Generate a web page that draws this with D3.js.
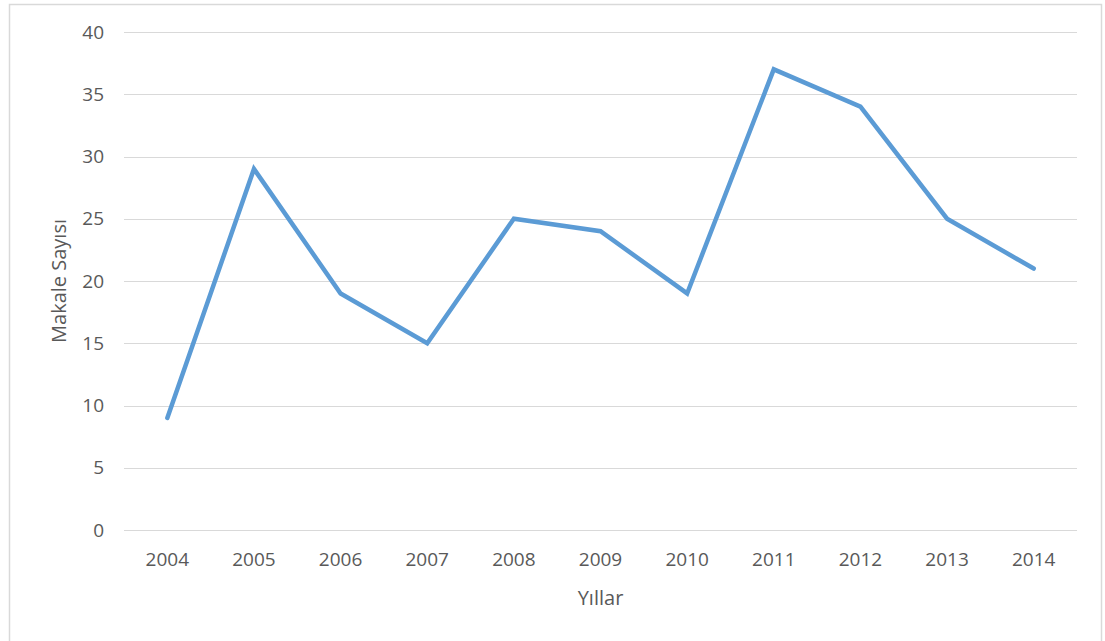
<!DOCTYPE html>
<html><head><meta charset="utf-8">
<script src="https://cdn.jsdelivr.net/npm/d3@7"></script>
<style>body{margin:0;background:#fff}svg{display:block}</style>
</head><body>
<svg id="c" width="1105" height="641"></svg>
<script>
const years = ["2004","2005","2006","2007","2008","2009","2010","2011","2012","2013","2014"];
const counts = [9, 29, 19, 15, 25, 24, 19, 37, 34, 25, 21];
const yTicks = [0, 5, 10, 15, 20, 25, 30, 35, 40];

const svg = d3.select("#c");
const font = "'Open Sans', 'Noto Sans', sans-serif";
const textColor = "#595959";

// frame
svg.append("rect").attr("x", 9.5).attr("y", 4.5).attr("width", 1092).attr("height", 660)
  .attr("fill", "#fff").attr("stroke", "#d9d9d9").attr("stroke-width", 1.5);

const m = {left: 124, right: 1077, top: 32, bottom: 530};
const x = d3.scaleBand().domain(years).range([m.left, m.right]);
const y = d3.scaleLinear().domain([0, 40]).range([m.bottom, m.top]);

// gridlines
svg.append("g").selectAll("line").data(yTicks).join("line")
  .attr("x1", m.left).attr("x2", m.right)
  .attr("y1", d => Math.round(y(d)) + 0.5).attr("y2", d => Math.round(y(d)) + 0.5)
  .attr("stroke", "#d9d9d9").attr("stroke-width", 1);

// y axis labels
const yAxis = d3.axisLeft(y).tickValues(yTicks).tickSize(0).tickPadding(0);
const gy = svg.append("g").attr("transform", `translate(104,0)`).call(yAxis);
gy.select(".domain").remove();
gy.selectAll("text").attr("font-family", font).attr("font-size", 19).attr("fill", textColor);

// x axis labels
const xAxis = d3.axisBottom(x).tickSize(0).tickPadding(0);
const gx = svg.append("g").attr("transform", `translate(0,552)`).call(xAxis);
gx.select(".domain").remove();
gx.selectAll("text").attr("font-family", font).attr("font-size", 19).attr("fill", textColor);

// line
const line = d3.line().x((d, i) => x(years[i]) + x.bandwidth() / 2).y(d => y(d));
svg.append("path").datum(counts).attr("d", line)
  .attr("fill", "none").attr("stroke", "#5b9bd5").attr("stroke-width", 4.5)
  .attr("stroke-linejoin", "miter").attr("stroke-linecap", "round");

// axis titles
svg.append("text").attr("x", (m.left + m.right) / 2).attr("y", 605)
  .attr("text-anchor", "middle").attr("font-family", font).attr("font-size", 20)
  .attr("fill", textColor).text("Yıllar");
svg.append("text").attr("transform", `translate(66,${(m.top + m.bottom) / 2}) rotate(-90)`)
  .attr("text-anchor", "middle").attr("font-family", font).attr("font-size", 20)
  .attr("fill", textColor).text("Makale Sayısı");
</script>
</body></html>
